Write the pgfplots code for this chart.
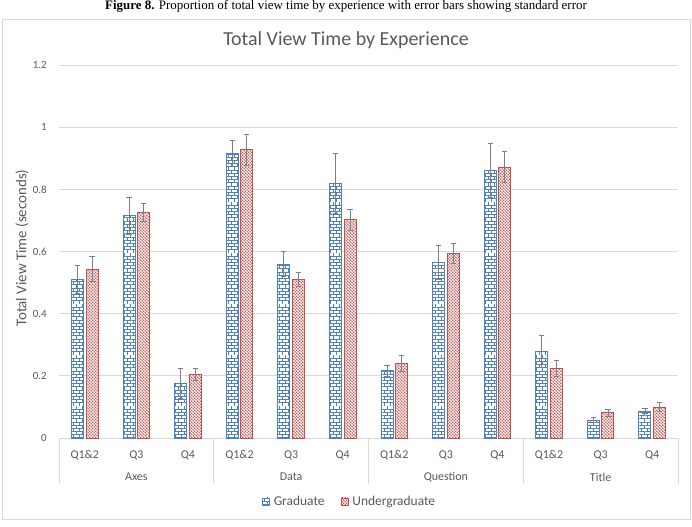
\documentclass[border=0pt]{standalone}
\usepackage{pgfplots}
\pgfplotsset{compat=1.18}
\usepackage{pgfplotstable}
\usetikzlibrary{patterns}
\usepackage{fontspec}
\setmainfont{Carlito}
\newfontfamily\capfont{Liberation Serif}

\definecolor{txtgray}{HTML}{595959}
\definecolor{gridgray}{HTML}{D9D9D9}
\definecolor{errgray}{HTML}{7F7F7F}
\definecolor{gradblue}{HTML}{4F81BD}
\definecolor{ugradred}{HTML}{C0504D}

% small brick pattern for the graduate bars
\pgfdeclarepatternformonly{gbricks}{\pgfpoint{-0.1pt}{-0.1pt}}{\pgfpoint{6.1pt}{6.5pt}}{\pgfpoint{6pt}{6.4pt}}{%
  \pgfsetlinewidth{0.55pt}%
  \pgfpathmoveto{\pgfpoint{0pt}{0pt}}\pgfpathlineto{\pgfpoint{6pt}{0pt}}%
  \pgfpathmoveto{\pgfpoint{0pt}{3.2pt}}\pgfpathlineto{\pgfpoint{6pt}{3.2pt}}%
  \pgfpathmoveto{\pgfpoint{1.5pt}{0pt}}\pgfpathlineto{\pgfpoint{1.5pt}{3.2pt}}%
  \pgfpathmoveto{\pgfpoint{4.5pt}{3.2pt}}\pgfpathlineto{\pgfpoint{4.5pt}{6.4pt}}%
  \pgfusepath{stroke}}
% dense dot pattern for the undergraduate bars
\pgfdeclarepatternformonly{udots}{\pgfpointorigin}{\pgfpoint{3pt}{3pt}}{\pgfpoint{3pt}{3pt}}{%
  \pgfpathcircle{\pgfpoint{0.75pt}{0.75pt}}{0.78pt}%
  \pgfpathcircle{\pgfpoint{2.25pt}{2.25pt}}{0.78pt}%
  \pgfusepath{fill}}

% x: category index, g/u: mean view time, ge/ue: standard error
\pgfplotstableread{
x  g      ge     u      ue
0  0.510  0.045  0.543  0.040
1  0.715  0.059  0.726  0.030
2  0.176  0.047  0.205  0.020
3  0.916  0.043  0.927  0.049
4  0.559  0.040  0.511  0.023
5  0.819  0.096  0.703  0.034
6  0.216  0.019  0.240  0.026
7  0.565  0.055  0.594  0.033
8  0.861  0.087  0.872  0.050
9  0.279  0.051  0.224  0.026
10 0.058  0.007  0.081  0.012
11 0.087  0.009  0.099  0.015
}\viewtime

\begin{document}
\begin{tikzpicture}
\begin{axis}[
  at={(0,0)}, anchor=south west,
  scale only axis, width=619bp, height=373bp,
  ybar, bar width=12bp,
  xmin=-0.5, xmax=11.5, ymin=0, ymax=1.2,
  xtick={0,...,11},
  xticklabels={Q1\&2,Q3,Q4,Q1\&2,Q3,Q4,Q1\&2,Q3,Q4,Q1\&2,Q3,Q4},
  ytick={0,0.2,0.4,0.6,0.8,1,1.2},
  ymajorgrids, grid style={gridgray, line width=0.75bp},
  axis line style={draw=none}, major tick length=0pt,
  /pgf/number format/assume math mode=true,
  tick label style={text=txtgray},
  yticklabel style={font=\fontsize{11}{12}\selectfont, anchor=east, inner sep=0pt, xshift=-12bp},
  xticklabel style={font=\fontsize{12}{13}\selectfont, anchor=center, inner sep=0pt, yshift=-17bp},
  ylabel={Total View Time (seconds)},
  ylabel style={font=\fontsize{15}{16}\selectfont, text=txtgray, at={(axis description cs:-0.0598,0.509)}, anchor=center},
  clip=false,
  legend columns=2,
  legend style={at={(0.4693,-0.1702)}, anchor=center, draw=none, fill=none,
    font=\fontsize{13.5}{14}\selectfont, text=txtgray,
    /tikz/every odd column/.append style={column sep=2bp},
    /tikz/every even column/.append style={column sep=14bp}},
  legend image code/.code={\draw[#1] (0bp,-3.5bp) rectangle (7bp,3.5bp);},
  error bars/y dir=both, error bars/y explicit,
  error bars/error bar style={errgray, line width=0.8bp},
  error bars/error mark options={errgray, rotate=90, mark size=2.6bp, line width=0.8bp},
]
\addplot[bar shift=-7.3bp, draw=gradblue, line width=0.9bp, fill=white,
  postaction={pattern=gbricks, pattern color=gradblue}]
  table[x=x, y=g, y error=ge] {\viewtime};
\addlegendentry{Graduate}
\addplot[bar shift=7.3bp, draw=ugradred, line width=0.9bp, fill=white,
  postaction={pattern=udots, pattern color=ugradred}]
  table[x=x, y=u, y error=ue] {\viewtime};
\addlegendentry{Undergraduate}

% group separators and group names below the category labels
\draw[gridgray, line width=0.75bp] (axis cs:-0.5,0) -- ++(0bp,-46bp);
\draw[gridgray, line width=0.75bp] (axis cs:2.5,0) -- ++(0bp,-46bp);
\draw[gridgray, line width=0.75bp] (axis cs:5.5,0) -- ++(0bp,-46bp);
\draw[gridgray, line width=0.75bp] (axis cs:8.5,0) -- ++(0bp,-46bp);
\draw[gridgray, line width=0.75bp] (axis cs:11.5,0) -- ++(0bp,-46bp);
\node[font=\fontsize{12}{13}\selectfont, text=txtgray, yshift=-39bp] at (axis cs:1,0) {Axes};
\node[font=\fontsize{12}{13}\selectfont, text=txtgray, yshift=-39bp] at (axis cs:4,0) {Data};
\node[font=\fontsize{12}{13}\selectfont, text=txtgray, yshift=-39bp] at (axis cs:7,0) {Question};
\node[font=\fontsize{12}{13}\selectfont, text=txtgray, yshift=-39bp] at (axis cs:10,0) {Title};
\end{axis}

% chart frame, title and figure caption
\draw[gridgray, line width=0.75bp] (-57bp,-81bp) rectangle (631bp,419bp);
\node[font=\fontsize{20}{22}\selectfont, text=txtgray, anchor=base] at (287bp,392bp) {Total View Time by Experience};
\node[font=\capfont\fontsize{13}{14}\selectfont, anchor=base] at (287bp,428.3bp) {\textbf{Figure 8.} Proportion of total view time by experience with error bars showing standard error};

\pgfresetboundingbox
\useasboundingbox (-59bp,-89bp) rectangle (633bp,438bp);
\end{tikzpicture}
\end{document}
